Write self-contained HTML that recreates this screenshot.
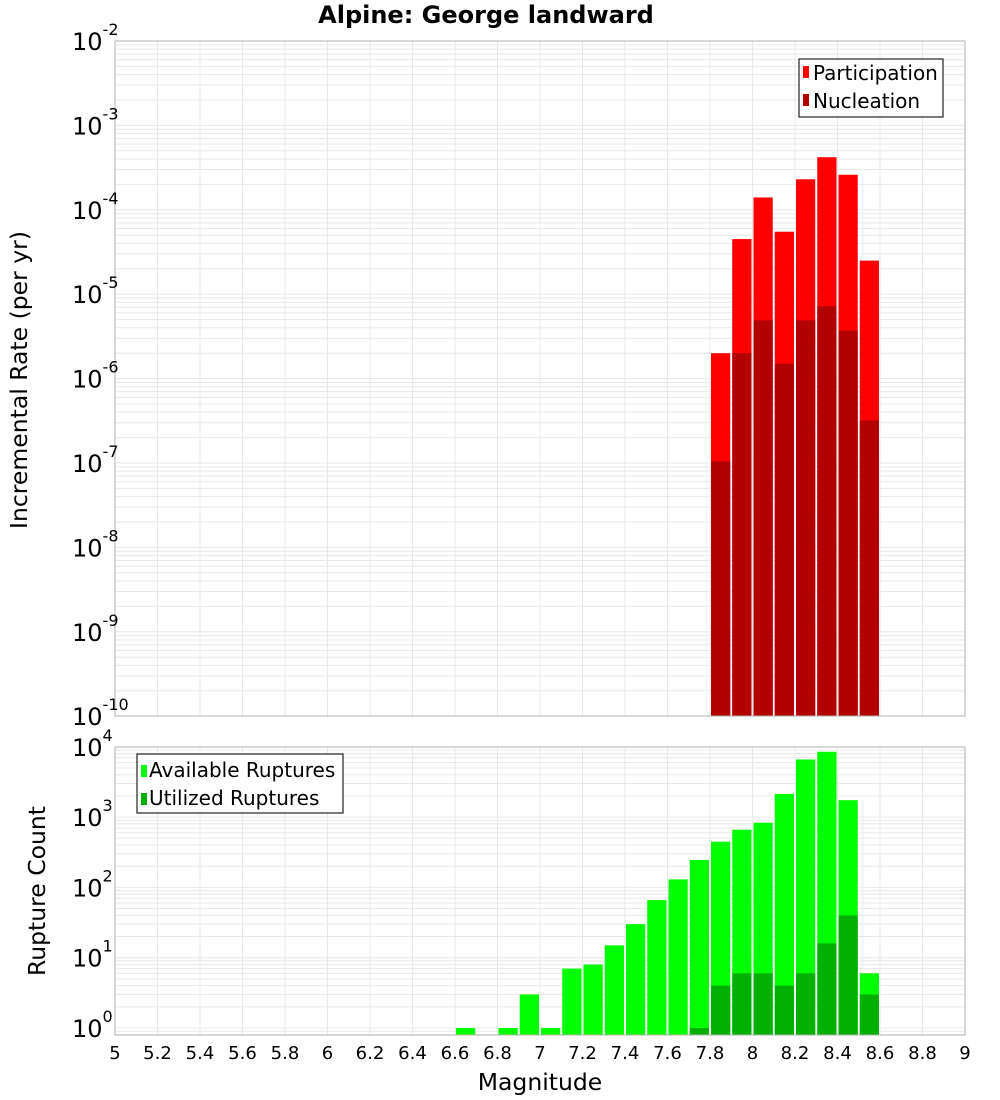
<!DOCTYPE html>
<html><head><meta charset="utf-8"><style>
body{margin:0;background:#fff;}
svg{display:block;font-family:"DejaVu Sans","Liberation Sans",sans-serif;}
</style></head><body>
<svg id="chart" width="1000" height="1100" viewBox="0 0 1000 1100">
<text x="486" y="23" text-anchor="middle" font-size="24" font-weight="bold">Alpine: George landward</text>
<g id="topPlot"></g>
<g id="botPlot"></g>
<text transform="translate(27,380) rotate(-90)" text-anchor="middle" font-size="23.5">Incremental Rate (per yr)</text>
<text transform="translate(45,891) rotate(-90)" text-anchor="middle" font-size="23.5">Rupture Count</text>
<text x="540" y="1090" text-anchor="middle" font-size="23.5">Magnitude</text>
<g id="legends"></g>
</svg>
<script>
const magBins = [6.65,6.75,6.85,6.95,7.05,7.15,7.25,7.35,7.45,7.55,7.65,7.75,7.85,7.95,8.05,8.15,8.25,8.35,8.45,8.55];
const availableCounts = [1,0,1,3,1,7,8,15,30,66,130,246,447,662,832,2140,6600,8500,1740,6];
const utilizedCounts = [0,0,0,0,0,0,0,0,0,0,0,1,4,6,6,4,6,16,40,3];
const rateBins = [7.85,7.95,8.05,8.15,8.25,8.35,8.45,8.55];
const participationRates = [2e-6,4.5e-5,1.4e-4,5.5e-5,2.3e-4,4.2e-4,2.6e-4,2.5e-5];
const nucleationRates = [1.05e-7,2e-6,4.9e-6,1.5e-6,4.9e-6,7.2e-6,3.7e-6,3.2e-7];
const xTicks = [5,5.2,5.4,5.6,5.8,6,6.2,6.4,6.6,6.8,7,7.2,7.4,7.6,7.8,8,8.2,8.4,8.6,8.8,9];
const topExps = [-2,-3,-4,-5,-6,-7,-8,-9,-10];
const botExps = [0,1,2,3,4];

const NS='http://www.w3.org/2000/svg';
const X0=115,X1=965;
const xs=m=>X0+(m-5)/4*(X1-X0);
const topY=v=>41+(-2-Math.log10(v))*84.4;
const botY=v=>1028-Math.log10(v)*70.3;
function mk(p,t,a){const e=document.createElementNS(NS,t);for(const k in a)e.setAttribute(k,a[k]);p.appendChild(e);return e;}

function frame(g,yTop,yBot,lo,hi,yf){
  for(let d=lo;d<hi;d++)for(let k=1;k<10;k++){const y=yf(k*Math.pow(10,d));if(y>=yTop&&y<=yBot){
    const l=mk(g,'line',{x1:X0,x2:X1,y1:y,y2:y,stroke:'#e8e8e8','stroke-width':1});
    
    }}
  xTicks.forEach(t=>{const l=mk(g,'line',{x1:xs(t),x2:xs(t),y1:yTop,y2:yBot,stroke:'#e8e8e8','stroke-width':1});
    
    });
}
const topG=document.getElementById('topPlot'),botG=document.getElementById('botPlot');
frame(topG,41,716,-10,-2,topY);
frame(botG,747,1035,-1,4,botY);
const bw=(X1-X0)/40;
function bars(g,bins,vals,col,yf,base,name){
  bins.forEach((m,i)=>{if(vals[i]<=0)return;const y=yf(vals[i]);
    const r=mk(g,'rect',{x:xs(m)-bw/2+1,y:y,width:bw-2,height:base-y,fill:col});
    
    });
}
bars(topG,rateBins,participationRates,'#ff0000',topY,716,'participation-bar');
bars(topG,rateBins,nucleationRates,'#b30000',topY,716,'nucleation-bar');
bars(botG,magBins,availableCounts,'#00ff00',botY,1035,'available-bar');
bars(botG,magBins,utilizedCounts,'#00b000',botY,1035,'utilized-bar');
mk(topG,'rect',{x:X0,y:41,width:X1-X0,height:675,fill:'none',stroke:'#b0b0b0'});
mk(botG,'rect',{x:X0,y:747,width:X1-X0,height:288,fill:'none',stroke:'#b0b0b0'});
function ylab(g,e,y){const t=mk(g,'text',{x:72,y:y+9,'font-size':24});
  
  
  t.textContent='10';const s=mk(t,'tspan',{dy:-15,'font-size':16});s.textContent=e;}
topExps.forEach(e=>ylab(topG,e,topY(Math.pow(10,e))));
botExps.forEach(e=>ylab(botG,e,botY(Math.pow(10,e))));
xTicks.forEach(t=>{const l=mk(botG,'text',{x:xs(t),y:1059,'text-anchor':'middle','font-size':18});
  
  
  l.textContent=String(t);});
</script>
<svg style="position:absolute;left:0;top:0" width="1000" height="1100">
<g font-family="DejaVu Sans, Liberation Sans, sans-serif">
<rect x="799" y="59" width="144" height="58" fill="#fff" stroke="#222" stroke-width="1.2"/>
<rect x="803" y="66" width="6" height="12" fill="#ff0000"/>
<text x="813" y="80" font-size="20">Participation</text>
<rect x="803" y="94" width="6" height="12" fill="#b30000"/>
<text x="813" y="108" font-size="20">Nucleation</text>
</g>
<g font-family="DejaVu Sans, Liberation Sans, sans-serif">
<rect x="137" y="754" width="206" height="59" fill="#fff" stroke="#222" stroke-width="1.2"/>
<rect x="141" y="765" width="6" height="12" fill="#00ff00"/>
<text x="149" y="777" font-size="20">Available Ruptures</text>
<rect x="141" y="793" width="6" height="12" fill="#00b000"/>
<text x="149" y="805" font-size="20">Utilized Ruptures</text>
</g>
</svg>
</body></html>
